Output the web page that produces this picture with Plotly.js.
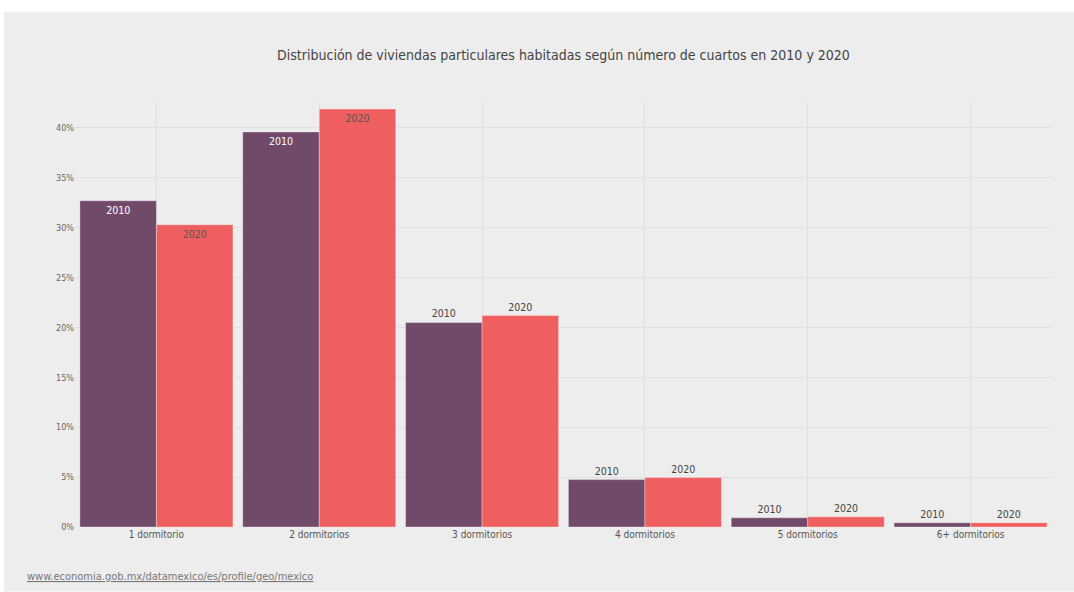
<!DOCTYPE html>
<html>
<head>
<meta charset="utf-8">
<script src="https://cdn.plot.ly/plotly-3.0.1.min.js"></script>
<style>
html,body{margin:0;padding:0;background:#fff;}
#chart{width:1074px;height:592px;}
</style>
</head>
<body>
<div id="chart"></div>
<script>
const categories = ["1 dormitorio", "2 dormitorios", "3 dormitorios", "4 dormitorios", "5 dormitorios", "6+ dormitorios"];
const values2010 = [32.7, 39.6, 20.5, 4.75, 0.92, 0.42];
const values2020 = [30.3, 41.9, 21.2, 4.95, 1.02, 0.43];
const seriesNames = ["2010", "2020"];
const yTicks = [0, 5, 10, 15, 20, 25, 30, 35, 40];
const titleText = "Distribución de viviendas particulares habitadas según número de cuartos en 2010 y 2020";
const sourceText = "www.economia.gob.mx/datamexico/es/profile/geo/mexico";

const FONT = "'DejaVu Sans Condensed', sans-serif";

function positions(vals){ return vals.map(v => v > 25 ? "inside" : "outside"); }
function f(size, color){ return {family: FONT, size: size, color: color, weight: "normal"}; }

const t2010 = {
  type: "bar", name: seriesNames[0], x: categories, y: values2010,
  text: values2010.map(() => seriesNames[0]),
  textposition: positions(values2010),
  insidetextanchor: "end",
  insidetextfont: f(10.5, "#ffffff"),
  outsidetextfont: f(10.5, "#444444"),
  textangle: 0, cliponaxis: false,
  marker: {color: "#724a69", line: {color: "rgba(255,255,255,0.35)", width: 1}},
  hoverinfo: "none"
};
const t2020 = {
  type: "bar", name: seriesNames[1], x: categories, y: values2020,
  text: values2020.map(() => seriesNames[1]),
  textposition: positions(values2020),
  insidetextanchor: "end",
  insidetextfont: f(10.5, "#555555"),
  outsidetextfont: f(10.5, "#444444"),
  textangle: 0, cliponaxis: false,
  marker: {color: "#f05f5f", line: {color: "rgba(255,255,255,0.35)", width: 1}},
  hoverinfo: "none"
};

const layout = {
  width: 1074, height: 592,
  paper_bgcolor: "#ffffff",
  plot_bgcolor: "rgba(0,0,0,0)",
  margin: {l: 75, r: 22, t: 102, b: 64.5, pad: 0},
  barmode: "group", bargap: 0.06, bargroupgap: 0,
  showlegend: false,
  font: f(12, "#555555"),
  title: {text: titleText, x: 0.5, xref: "paper", xanchor: "center", y: 1 - 55/592, yanchor: "middle",
          font: f(14, "#444444")},
  xaxis: {
    type: "category", showgrid: true, gridcolor: "#e0e0e0", gridwidth: 1,
    showline: false, zeroline: false, ticks: "",
    tickfont: f(10, "#555555")
  },
  yaxis: {
    range: [0, 42.6], tickvals: yTicks, ticktext: yTicks.map(v => v + "%"),
    showgrid: true, gridcolor: "#e0e0e0", gridwidth: 1, zeroline: false, showline: false,
    ticks: "", tickfont: f(9, "#666666")
  },
  shapes: [{type: "rect", xref: "paper", yref: "paper", layer: "below",
            x0: -71/977, x1: 1 + 22/977, y0: -64.5/425.5, y1: 1 + 90/425.5,
            fillcolor: "#ededed", line: {width: 0}}],
  annotations: [{
    xref: "paper", yref: "paper", x: -50/977, y: -50/425.5, xanchor: "left", yanchor: "middle",
    text: "<span style='text-decoration:underline'>" + sourceText + "</span>", showarrow: false,
    font: f(11, "#777777")
  }]
};

Plotly.newPlot("chart", [t2010, t2020], layout, {staticPlot: true, displayModeBar: false});
</script>
</body>
</html>
